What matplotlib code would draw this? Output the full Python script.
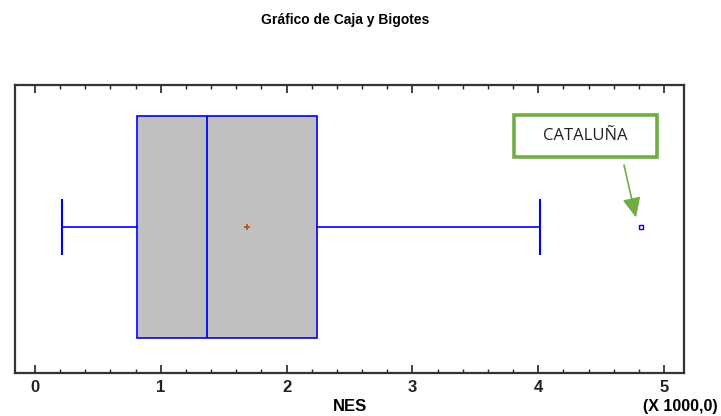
import matplotlib
matplotlib.use("Agg")
import matplotlib.pyplot as plt
from matplotlib.ticker import MultipleLocator
from matplotlib.patches import Rectangle

# Summary statistics of NES (raw units)
whisker_low = 215
q1 = 811
median = 1367
mean = 1685
q3 = 2242
whisker_high = 4014
outliers = [4817]
outlier_labels = ["CATALUÑA"]

scale = 1000.0
tick_values = [0, 1, 2, 3, 4, 5]

plt.rcParams['font.family'] = ['Liberation Sans Narrow', 'Liberation Sans', 'DejaVu Sans']

fig = plt.figure(figsize=(7.21, 4.16), dpi=100)
ax = fig.add_axes([15 / 721, 1 - 373 / 416, (684 - 15) / 721, (373 - 85) / 416])

stats = [dict(whislo=whisker_low / scale, q1=q1 / scale, med=median / scale,
              q3=q3 / scale, whishi=whisker_high / scale, mean=mean / scale,
              fliers=[v / scale for v in outliers])]

ax.bxp(stats, positions=[0.507], widths=0.771, vert=False, patch_artist=True,
       showmeans=True, capwidths=0.187,
       boxprops=dict(facecolor='#C0C0C0', edgecolor='#0000FF', linewidth=1.2),
       medianprops=dict(color='#0000FF', linewidth=1.3),
       whiskerprops=dict(color='#0000FF', linewidth=1.2),
       capprops=dict(color='#0000FF', linewidth=1.5),
       meanprops=dict(marker='+', markeredgecolor='#B5560E', markersize=5, markeredgewidth=1.2),
       flierprops=dict(marker='s', markerfacecolor='white', markeredgecolor='#0000FF',
                       markersize=3.5, markeredgewidth=1.0))

ax.set_xlim(-0.159, 5.159)
ax.set_ylim(0, 1)
ax.set_yticks([])
ax.xaxis.set_minor_locator(MultipleLocator(0.2))
ax.set_xticks(tick_values)
ax.set_xticklabels([str(t) for t in tick_values], fontweight='bold', fontsize=12)
ax.tick_params(axis='x', which='major', direction='in', length=6, width=1.2,
               top=True, bottom=True, pad=5, colors='#222222')
ax.tick_params(axis='x', which='minor', direction='in', length=3, width=1.0,
               top=True, bottom=True, colors='#222222')
for side in ['left', 'right', 'top', 'bottom']:
    ax.spines[side].set_linewidth(1.6)
    ax.spines[side].set_color('#333333')

ax.set_xlabel('NES', fontweight='bold', fontsize=12, labelpad=3)
fig.text(680 / 721, 1 - 406 / 416, '(X 1000,0)', ha='center', va='center',
         fontweight='bold', fontsize=11.5)
fig.text(345 / 721, 1 - 20 / 416, 'Gráfico de Caja y Bigotes', ha='center', va='center',
         fontweight='bold', fontsize=10, family=['Liberation Sans', 'DejaVu Sans'])

# Callout for the outlier
for val, lab in zip(outliers, outlier_labels):
    x = val / scale
    ax.annotate('', xy=(x - 0.04, 0.54), xytext=(x - 0.135, 0.722),
                arrowprops=dict(arrowstyle='-|>,head_length=1.2,head_width=0.55',
                                color='#70AD47', linewidth=1.2, shrinkA=0, shrinkB=0))
    ax.add_patch(Rectangle((3.808, 0.75), 1.136, 0.146, facecolor='white',
                           edgecolor='#70AD47', linewidth=2.6, zorder=4))
    ax.text(4.376, 0.823, lab, ha='center', va='center', fontsize=12,
            family=['Open Sans', 'DejaVu Sans'], color='#222222', zorder=5)

fig.savefig('out.png', dpi=100)
